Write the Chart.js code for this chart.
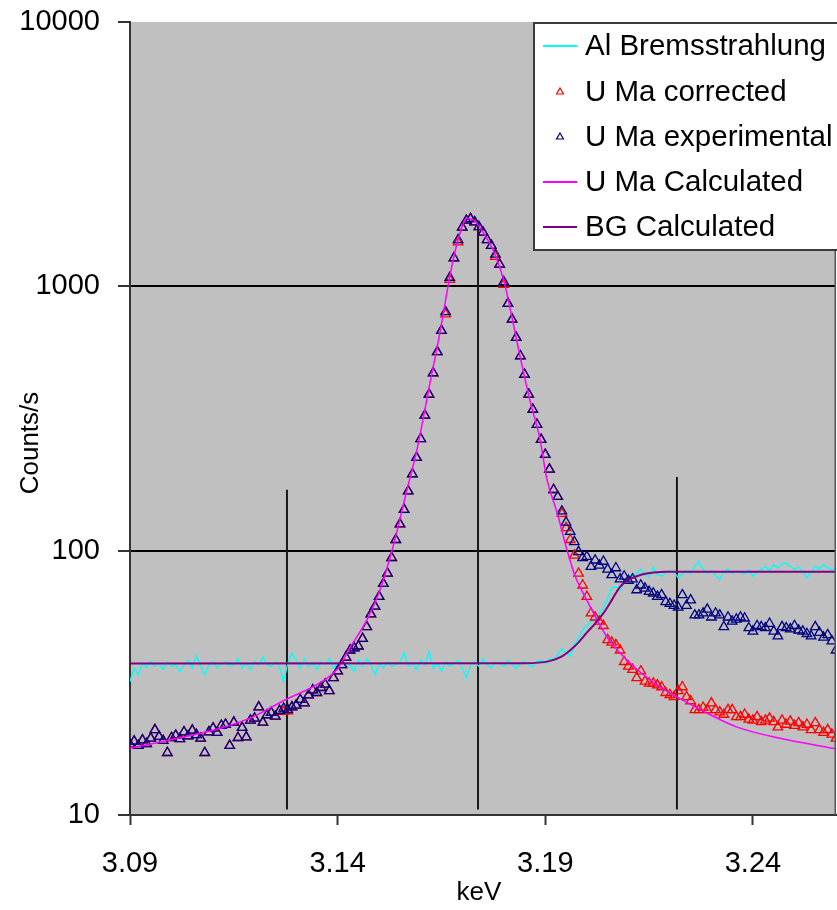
<!DOCTYPE html>
<html>
<head>
<meta charset="utf-8">
<script src="https://cdn.jsdelivr.net/npm/chart.js@4/dist/chart.umd.min.js"></script>
<style>
  html, body { margin: 0; padding: 0; background: #ffffff; }
  #wrap { width: 837px; height: 910px; position: relative; }
</style>
</head>
<body>
<div id="wrap"><canvas id="spectrum" width="837" height="910"></canvas></div>
<script>
// Scan energies (keV) shared by the measured series
const energy = [
  3.090, 3.091, 3.092, 3.093, 3.094, 3.095, 3.096, 3.097, 3.098, 3.099,
  3.100, 3.101, 3.102, 3.103, 3.104, 3.105, 3.106, 3.107, 3.108, 3.109,
  3.110, 3.111, 3.112, 3.113, 3.114, 3.115, 3.116, 3.117, 3.118, 3.119,
  3.120, 3.121, 3.122, 3.123, 3.124, 3.125, 3.126, 3.127, 3.128, 3.129,
  3.130, 3.131, 3.132, 3.133, 3.134, 3.135, 3.136, 3.137, 3.138, 3.139,
  3.140, 3.141, 3.142, 3.143, 3.144, 3.145, 3.146, 3.147, 3.148, 3.149,
  3.150, 3.151, 3.152, 3.153, 3.154, 3.155, 3.156, 3.157, 3.158, 3.159,
  3.160, 3.161, 3.162, 3.163, 3.164, 3.165, 3.166, 3.167, 3.168, 3.169,
  3.170, 3.171, 3.172, 3.173, 3.174, 3.175, 3.176, 3.177, 3.178, 3.179,
  3.180, 3.181, 3.182, 3.183, 3.184, 3.185, 3.186, 3.187, 3.188, 3.189,
  3.190, 3.191, 3.192, 3.193, 3.194, 3.195, 3.196, 3.197, 3.198, 3.199,
  3.200, 3.201, 3.202, 3.203, 3.204, 3.205, 3.206, 3.207, 3.208, 3.209,
  3.210, 3.211, 3.212, 3.213, 3.214, 3.215, 3.216, 3.217, 3.218, 3.219,
  3.220, 3.221, 3.222, 3.223, 3.224, 3.225, 3.226, 3.227, 3.228, 3.229,
  3.230, 3.231, 3.232, 3.233, 3.234, 3.235, 3.236, 3.237, 3.238, 3.239,
  3.240, 3.241, 3.242, 3.243, 3.244, 3.245, 3.246, 3.247, 3.248, 3.249,
  3.250, 3.251, 3.252, 3.253, 3.254, 3.255, 3.256, 3.257, 3.258, 3.259,
  3.260
];

// Al Bremsstrahlung (counts/s)
const bremsstrahlung = [
  32, 36, 34, 37.5, 36, 38, 36.5, 37.5, 35.5, 38,
  36.5, 37, 35, 37, 38.5, 36, 40, 36.5, 34, 37,
  38, 36, 37.5, 38, 36.5, 37, 39, 36, 37.5, 35.5,
  38, 37, 39.5, 37, 36.5, 38, 36.5, 32, 37.5, 41,
  38.5, 36, 39, 36.5, 37.5, 35.5, 38, 37, 39, 36,
  37.5, 38.5, 36, 37, 35, 38.5, 36.5, 39, 37, 34,
  37.5, 36, 38, 36.5, 37, 38, 41, 36.5, 37.5, 35.5,
  38.5, 37, 41.5, 36, 37.5, 35, 38, 36.5, 37.5, 38.5,
  36, 33, 37, 38, 36.5, 39, 37, 36, 38, 37.5,
  36.5, 38.5, 37, 36, 37.5, 38, 37, 36.5, 38, 38.5,
  37.5, 39, 38.5, 40.5, 42.5, 41, 40, 44, 47, 50,
  52, 54, 55, 58, 61, 66, 72.5, 73, 71, 76,
  78, 81, 82, 85, 81, 79.5, 86.5, 81, 80, 82.5,
  84, 83, 79, 81.5, 84, 82, 87, 91, 85, 82,
  84, 80.5, 78, 83, 85.5, 82, 84, 83, 81.5, 84.5,
  80, 83, 85, 87, 84, 88.5, 86, 89, 90, 87,
  85, 86.5, 84, 79, 83, 87.5, 85, 88.5, 86, 84.5,
  86
];

// U Ma corrected (counts/s)
const corrected = [
  18.5, 19.0, 18.3, 19.2, 18.6, 19.5, 21.0, 19.8, 19.1, 17.2,
  19.6, 20.0, 19.4, 20.6, 19.9, 20.9, 20.1, 19.5, 17.2, 20.6,
  21.3, 20.5, 21.8, 22.0, 18.3, 22.4, 19.6, 21.4, 19.7, 22.8,
  23.2, 25.6, 22.4, 23.9, 24.4, 23.6, 24.8, 24.6, 24.7, 25.6,
  26.0, 27.3, 26.5, 28.4, 29.7, 29.0, 30.3, 31.2, 29.5, 33.0,
  35.0, 37.0, 39.5, 42.0, 42.8, 43.5, 46.5, 51.5, 57.5, 61.5,
  67, 75, 82, 94, 110, 126, 143, 168, 195, 225,
  265, 325, 390, 470, 565, 680, 785, 1060, 1280, 1470,
  1670, 1775, 1800, 1750, 1680, 1600, 1500, 1425, 1295, 1210,
  1015, 860, 750, 640, 545, 464, 390, 342, 300, 263,
  231, 203, 170, 160, 138, 122, 110, 96, 82, 74,
  67, 58, 56, 54, 52, 46, 45, 44, 42, 38,
  36.5, 35.5, 33, 35, 32, 31.5, 31.5, 31, 30.5, 29,
  28.5, 28, 29.5, 30.5, 28, 27, 25, 25, 25.5, 25,
  26.5, 25, 24.5, 24, 25, 25, 23.5, 23.5, 24, 23,
  22.8, 23.5, 22.5, 22.8, 23.2, 22.5, 21.5, 22.8, 22, 22.6,
  21.8, 22.3, 21.5, 22, 21, 22.3, 21, 20.5, 21, 20.2,
  19.5
];

// U Ma experimental (counts/s)
const experimental = [
  18.5, 19.0, 18.3, 19.2, 18.6, 19.5, 21.0, 19.8, 19.1, 17.2,
  19.6, 20.0, 19.4, 20.6, 19.9, 20.9, 20.1, 19.5, 17.2, 20.6,
  21.3, 20.5, 21.8, 22.0, 18.3, 22.4, 19.6, 21.4, 19.7, 22.8,
  23.2, 25.6, 22.4, 23.9, 24.4, 23.6, 24.8, 25.3, 25.0, 25.6,
  26.0, 27.3, 26.5, 28.4, 29.7, 29.0, 30.3, 31.2, 29.5, 33.0,
  35.0, 37.0, 39.5, 42.0, 42.8, 43.5, 46.5, 51.5, 57.5, 61.5,
  67, 75, 82, 94, 110, 126, 143, 168, 195, 225,
  265, 325, 390, 470, 565, 680, 800, 1080, 1280, 1500,
  1670, 1775, 1800, 1750, 1680, 1600, 1500, 1425, 1320, 1210,
  1040, 860, 750, 640, 545, 464, 390, 342, 300, 263,
  231, 203, 170, 160, 141, 128, 118, 108, 99, 94,
  95, 87, 92, 88, 91, 85, 81, 86, 78, 80,
  77, 78, 71, 74, 72, 70, 69, 67, 68, 64,
  63, 62, 61, 68, 62, 65, 57, 57, 58, 60,
  56, 58, 57, 51.5, 56, 54, 55, 56, 55.5, 51,
  49.5, 52, 51.5, 51, 53, 49.5, 47.5, 51.5, 51, 50.5,
  52, 50, 49.5, 48.5, 47.5, 51.5, 49, 47, 48, 45.5,
  42
];

// U Ma Calculated profile
const calcEnergy = [
  3.0900, 3.1117, 3.1196, 3.1268, 3.1357, 3.1398, 3.1430, 3.1471, 3.1502, 3.1533,
  3.1567, 3.1591, 3.1622, 3.1646, 3.1671, 3.1690, 3.1711, 3.1731, 3.1755, 3.1779,
  3.1801, 3.1820, 3.1839, 3.1863, 3.1887, 3.1904, 3.1928, 3.1952, 3.1972, 3.2000,
  3.2024, 3.2049, 3.2080, 3.2121, 3.2176, 3.2217, 3.2289, 3.2362, 3.2465, 3.2600
];
const calcCounts = [
  17.9, 21.3, 23.5, 27, 31.6, 35.5, 43, 55, 71, 103,
  170, 241, 428, 664, 1110, 1500, 1810, 1760, 1560, 1320,
  1040, 760, 545, 370, 265, 186, 140, 101, 80, 65,
  55, 47, 41, 35.5, 30.5, 28, 24.3, 21.5, 19.5, 17.8
];

// BG Calculated step
const bgEnergy = [
  3.0900, 3.1850, 3.1910, 3.1940, 3.1960, 3.1980, 3.2000, 3.2020, 3.2040,
  3.2060, 3.2080, 3.2100, 3.2120, 3.2140, 3.2160, 3.2190, 3.2600
];
const bgCounts = [
  37.4, 37.5, 38.2, 39.8, 42, 45, 49, 53, 58,
  65, 73, 77.5, 80, 81.8, 82.6, 83.2, 83.2
];

// Vertical reference markers
const markerEnergy = [3.1278, 3.1738, 3.2217];
const markerTop = [170, 1750, 190];
const markerBottom = 10.5;

const xTickValues = [3.09, 3.14, 3.19, 3.24];
const yTickValues = [10, 100, 1000, 10000];
const yGridValues = [100, 1000];

const seriesNames = ['Al Bremsstrahlung', 'U Ma corrected', 'U Ma experimental', 'U Ma Calculated', 'BG Calculated'];
const seriesColors = ['#00ffff', '#ff0000', '#000080', '#ff00ff', '#800080'];

const FONT = '"Liberation Sans", Arial, Helvetica, sans-serif';

const pairs = (xs, ys) => xs.map((x, i) => ({ x: x, y: ys[i] }));

const lineSeries = (idx, xs, ys, order, width) => ({
  label: seriesNames[idx],
  data: pairs(xs, ys),
  showLine: true,
  borderColor: seriesColors[idx],
  backgroundColor: seriesColors[idx],
  borderWidth: width,
  pointRadius: 0,
  fill: false,
  order: order,
  legendKind: 'line'
});

const markerSeries = (idx, ys, order) => ({
  label: seriesNames[idx],
  data: pairs(energy, ys),
  showLine: false,
  pointStyle: 'triangle',
  pointRadius: 5.5,
  pointBorderWidth: 1.3,
  borderColor: seriesColors[idx],
  backgroundColor: 'rgba(0,0,0,0)',
  order: order,
  legendKind: 'marker'
});

const datasets = [
  lineSeries(0, energy, bremsstrahlung, 4, 1.4),
  markerSeries(1, corrected, 3),
  markerSeries(2, experimental, 2),
  Object.assign(lineSeries(3, calcEnergy, calcCounts, 1, 1.5), { tension: 0.4, cubicInterpolationMode: 'monotone' }),
  Object.assign(lineSeries(4, bgEnergy, bgCounts, 0, 2), { tension: 0.4, cubicInterpolationMode: 'monotone' })
];

markerEnergy.forEach((e, i) => {
  datasets.push({
    label: 'marker' + i,
    data: [{ x: e, y: markerBottom }, { x: e, y: markerTop[i] }],
    showLine: true,
    borderColor: '#1a1a1a',
    borderWidth: 2,
    pointRadius: 0,
    order: 6,
    legendKind: null
  });
});

// Grey plot background and right frame edge
const plotBackground = {
  id: 'plotBackground',
  beforeDraw(chart) {
    const { ctx, chartArea: a } = chart;
    ctx.save();
    ctx.fillStyle = '#c0c0c0';
    ctx.fillRect(a.left, a.top, a.right - a.left, a.bottom - a.top);
    ctx.restore();
  },
  afterDatasetsDraw(chart) {
    const { ctx, chartArea: a } = chart;
    ctx.save();
    ctx.strokeStyle = '#555555';
    ctx.lineWidth = 1.5;
    ctx.beginPath();
    ctx.moveTo(a.right - 0.75, a.top);
    ctx.lineTo(a.right - 0.75, a.bottom);
    ctx.stroke();
    ctx.restore();
  }
};

// Boxed legend in the upper right and axis titles
const boxedLegend = {
  id: 'boxedLegend',
  afterDraw(chart) {
    const ctx = chart.ctx;
    ctx.save();
    const bx = 534, by = 23, bw = 305, bh = 227;
    ctx.fillStyle = '#ffffff';
    ctx.fillRect(bx, by, bw, bh);
    ctx.strokeStyle = '#3a3a3a';
    ctx.lineWidth = 2;
    ctx.strokeRect(bx, by, bw, bh);

    const rows = [46, 92, 137, 182, 227];
    ctx.font = '29.5px ' + FONT;
    ctx.textBaseline = 'middle';
    ctx.textAlign = 'left';
    chart.data.datasets.forEach((ds, i) => {
      if (!ds.legendKind) return;
      const y = rows[i];
      if (ds.legendKind === 'line') {
        ctx.strokeStyle = ds.borderColor;
        ctx.lineWidth = 2;
        ctx.beginPath();
        ctx.moveTo(543, y);
        ctx.lineTo(577, y);
        ctx.stroke();
      } else {
        ctx.strokeStyle = ds.borderColor;
        ctx.fillStyle = 'rgba(0,0,0,0)';
        ctx.lineWidth = 1.2;
        Chart.helpers.drawPoint(ctx, { pointStyle: 'triangle', radius: 4, borderWidth: 1.2, rotation: 0 }, 560, y);
      }
      ctx.fillStyle = '#000000';
      ctx.fillText(ds.label, 585, y + 1);
    });

    // axis titles
    ctx.fillStyle = '#000000';
    ctx.font = '26px ' + FONT;
    ctx.textAlign = 'center';
    ctx.textBaseline = 'middle';
    ctx.fillText('keV', 479, 893);
    ctx.translate(31, 443);
    ctx.rotate(-Math.PI / 2);
    ctx.fillText('Counts/s', 0, 0);
    ctx.restore();
  }
};

new Chart(document.getElementById('spectrum'), {
  type: 'scatter',
  data: { datasets: datasets },
  options: {
    responsive: false,
    animation: false,
    devicePixelRatio: 1,
    layout: { autoPadding: false, padding: { top: 22, right: 1, bottom: 0, left: 0 } },
    plugins: { legend: { display: false }, tooltip: { enabled: false } },
    scales: {
      x: {
        type: 'linear',
        min: 3.09,
        max: 3.26,
        afterBuildTicks: s => { s.ticks = xTickValues.map(v => ({ value: v })); },
        afterFit: s => { s.height = 95; s.paddingLeft = 0; s.paddingRight = 0; },
        ticks: {
          callback: v => Number(v).toFixed(2),
          font: { family: FONT, size: 29 },
          color: '#000000',
          padding: 22,
          maxRotation: 0,
          autoSkip: false
        },
        grid: { drawOnChartArea: false, tickLength: 10, tickColor: '#333333', tickWidth: 2 },
        border: { color: '#333333', width: 2 }
      },
      y: {
        type: 'logarithmic',
        min: 10,
        max: 10000,
        afterBuildTicks: s => { s.ticks = yTickValues.map(v => ({ value: v })); },
        afterFit: s => { s.width = 130; s.paddingTop = 0; s.paddingBottom = 0; },
        ticks: {
          callback: v => String(v),
          font: { family: FONT, size: 29 },
          color: '#000000',
          padding: 18,
          autoSkip: false
        },
        grid: {
          color: c => (c.tick && yGridValues.includes(c.tick.value)) ? '#000000' : 'rgba(0,0,0,0)',
          lineWidth: 2,
          tickLength: 12,
          tickColor: '#333333',
          tickWidth: 2
        },
        border: { color: '#333333', width: 2 }
      }
    }
  },
  plugins: [plotBackground, boxedLegend]
});
</script>
</body>
</html>
